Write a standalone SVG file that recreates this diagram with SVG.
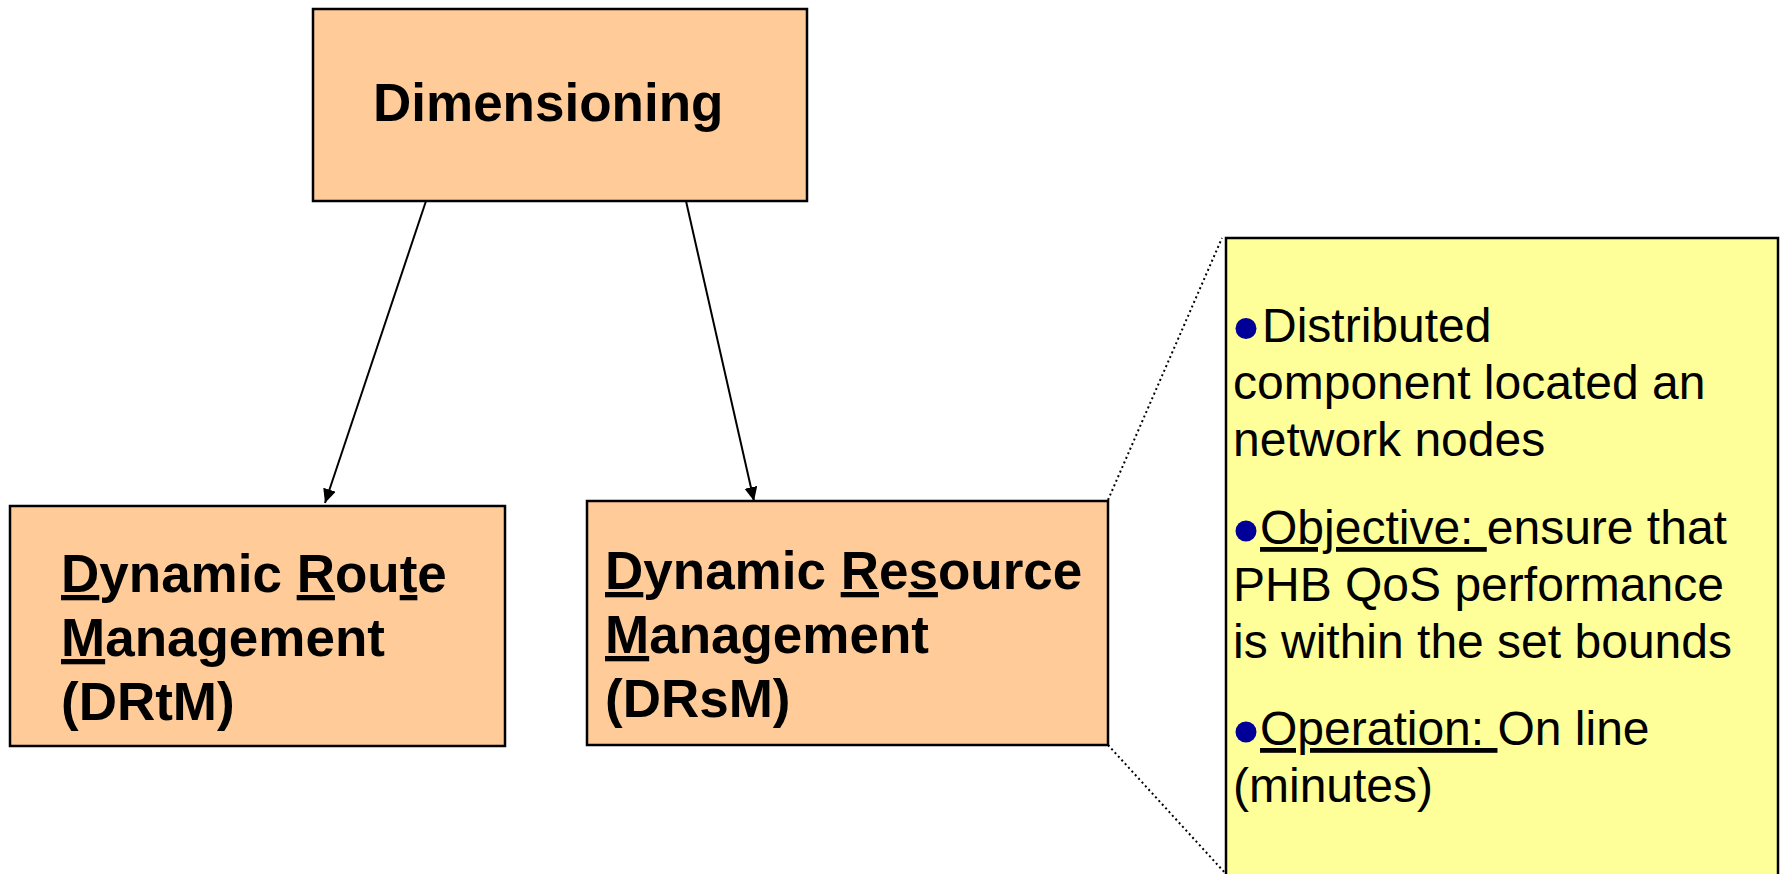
<svg xmlns="http://www.w3.org/2000/svg" width="1782" height="874" viewBox="0 0 1782 874">
  <style>
    .box { fill: #FFCC99; stroke: #000; stroke-width: 2.5; }
    .note { fill: #FFFF99; stroke: #000; stroke-width: 2.5; }
    .bold { font-family: "Liberation Sans", Arial, sans-serif; font-weight: bold; font-size: 53px; fill: #000; }
    .reg { font-family: "Liberation Sans", Arial, sans-serif; font-size: 48px; fill: #000; }
    .u { text-decoration: underline; }
    .bullet { fill: #000099; }
    .conn { stroke: #000; stroke-width: 2; fill: none; }
    .dot { stroke: #000; stroke-width: 2; fill: none; stroke-dasharray: 2 3; }
  </style>
  <defs>
    <marker id="arrow" markerUnits="userSpaceOnUse" markerWidth="15" markerHeight="14" refX="14" refY="6.5" orient="auto">
      <path d="M0,0 L14,6.5 L0,13 z" fill="#000"/>
    </marker>
  </defs>
  <rect width="1782" height="874" fill="#fff"/>

  <g id="connectors">
    <line class="conn" x1="426" y1="201" x2="325" y2="503" marker-end="url(#arrow)"/>
    <line class="conn" x1="686" y1="201" x2="754" y2="501" marker-end="url(#arrow)"/>
    <line class="dot" x1="1108" y1="500" x2="1222" y2="238"/>
    <line class="dot" x1="1108" y1="745" x2="1226" y2="874"/>
  </g>

  <g id="dimensioning">
    <rect class="box" x="313" y="9" width="494" height="192"/>
    <text class="bold" x="373" y="121">Dimensioning</text>
  </g>

  <g id="drtm">
    <rect class="box" x="10" y="506" width="495" height="240"/>
    <text class="bold" x="61" y="592"><tspan class="u">D</tspan>ynamic <tspan class="u">R</tspan>ou<tspan class="u">t</tspan>e</text>
    <text class="bold" x="61" y="656"><tspan class="u">M</tspan>anagement</text>
    <text class="bold" x="61" y="720">(DRtM)</text>
  </g>

  <g id="drsm">
    <rect class="box" x="587" y="501" width="521" height="244"/>
    <text class="bold" x="605" y="589"><tspan class="u">D</tspan>ynamic <tspan class="u">R</tspan>e<tspan class="u">s</tspan>ource</text>
    <text class="bold" x="605" y="653"><tspan class="u">M</tspan>anagement</text>
    <text class="bold" x="605" y="717">(DRsM)</text>
  </g>

  <g id="drsm-note">
    <rect class="note" x="1226" y="238" width="552" height="660"/>
    <circle class="bullet" cx="1246" cy="328.5" r="10.5"/>
    <text class="reg" x="1262" y="342">Distributed</text>
    <text class="reg" x="1233" y="399">component located an</text>
    <text class="reg" x="1233" y="456">network nodes</text>
    <circle class="bullet" cx="1246" cy="531" r="10.5"/>
    <text class="reg" x="1260" y="544"><tspan class="u">Objective: </tspan>ensure that</text>
    <text class="reg" x="1233" y="601">PHB QoS performance</text>
    <text class="reg" x="1233" y="658">is within the set bounds</text>
    <circle class="bullet" cx="1246" cy="732" r="10.5"/>
    <text class="reg" x="1260" y="745"><tspan class="u">Operation: </tspan>On line</text>
    <text class="reg" x="1233" y="802">(minutes)</text>
  </g>
</svg>
